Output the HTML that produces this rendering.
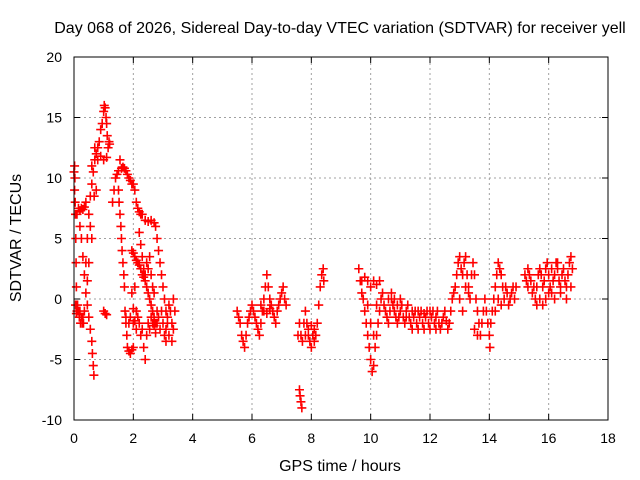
<!DOCTYPE html>
<html><head><meta charset="utf-8"><style>
body{margin:0;background:#fff;}
svg{display:block;font-family:"Liberation Sans",sans-serif;}
</style></head><body>
<svg id="chart" width="640" height="480">
<text x="340" y="33" font-size="16" text-anchor="middle">Day 068 of 2026, Sidereal Day-to-day VTEC variation (SDTVAR) for receiver yell</text>
<text x="340" y="471" font-size="16" text-anchor="middle">GPS time / hours</text>
<text x="0" y="0" font-size="16" text-anchor="middle" transform="translate(21,238) rotate(-90)">SDTVAR / TECUs</text>
<g id="grid"></g>
<g id="ticks"></g>
<g id="marks"></g>
<rect x="74" y="57" width="534" height="363" fill="none" stroke="#000" stroke-width="1"/>
</svg>
<script>
const xTicks=[0,2,4,6,8,10,12,14,16,18];
const yTicks=[-10,-5,0,5,10,15,20];
const seriesX=[];const seriesY=[];
const pts=[
[0,10.5],[0.02,9],[0.04,8],[0.05,7],[0.06,5],[0.07,3],[0.08,1],[0.09,-0.5],[0.1,-1],[0.12,-0.5],[0.15,-1],[0.18,-1.5],[0.2,-1],[0.22,-2],[0.25,-1.5],[0.28,-2],[0.3,-1.5],[0.32,-2],[0.35,-1],[0.02,11],[0.03,10],[0.05,-0.5],[0.08,-1.2],
[0.1,7],[0.15,7.5],[0.2,7.3],[0.25,7.5],[0.3,7.4],[0.35,7.6],[0.4,8],
[0.2,6],[0.25,5],[0.3,3.5],[0.35,2],[0.4,0.5],[0.45,-0.5],[0.5,-1.5],[0.55,-2.5],[0.6,-3.5],[0.62,-4.5],[0.65,-5.5],[0.67,-6.3],
[0.4,3],[0.45,5],[0.5,7],[0.55,8.5],[0.6,9.5],[0.65,10.5],[0.7,11.5],[0.75,12],[0.8,12.5],[0.85,13],[0.9,14],[0.95,14.5],[1.0,15.5],[1.02,16],[1.05,15.8],[1.08,15],[1.1,14.5],[1.12,13.5],[1.15,12.5],[1.18,13],[1.2,12.8],
[0.6,11],[0.7,12.5],[0.8,11.5],[0.9,11.8],[1.0,11.5],[1.1,11.7],[0.75,9],[0.68,8.5],[0.55,6],[0.6,5],[0.5,3],[0.45,1.5],
[1.0,-1],[1.05,-1.2],[1.1,-1.3],
[1.3,8],[1.35,9],[1.4,10],[1.45,10.3],[1.5,10.6],[1.55,11.5],[1.6,10.8],[1.65,10.9],[1.7,10.8],[1.75,10.6],[1.8,10.3],[1.85,10],[1.9,9.8],[1.95,9.5],[2.0,9.5],[2.05,9],[2.1,8],[2.15,7.5],[2.2,7.2],[2.25,7],[2.3,7],[2.4,6.5],[2.5,6.4],[2.6,6.5],[2.7,6.3],[2.75,6],[2.8,5],[2.85,4],[2.9,3],[2.95,2],[3.0,1],[3.05,0],[3.1,-1],[3.15,-2],
[1.5,9],[1.52,8],[1.55,7],[1.58,6],[1.6,5],[1.62,4],[1.65,3],[1.68,2],[1.7,1],[1.72,-1],[1.75,-2],[1.78,-3],[1.8,-4],[1.85,-4.3],[1.9,-4.5],[1.95,-4.2],[2.0,-4],
[1.95,4],[2.0,3.8],[2.05,3.5],[2.1,3.2],[2.15,3],[2.2,2.8],[2.25,2.5],[2.3,2],[2.35,1.8],[2.4,1.5],[2.45,1],[2.5,0.5],[2.55,0],[2.6,-0.5],[2.65,-1],[2.7,-1.5],[2.75,-2],
[2.2,5.5],[2.25,4.5],[2.3,3.5],[2.35,2.5],[2.4,2],[2.45,3],[2.5,2.5],[2.55,3.5],[2.6,2],[2.65,1],[2.7,0.5],[2.8,-1],
[2.0,-2],[2.1,-2.5],[2.15,-1.5],[2.2,-2],[2.25,-3],[2.3,-2.5],[2.35,-4],[2.4,-5],[2.45,-3],[2.5,-2],[2.55,-2.5],[2.6,-1.5],[2.65,-2],[2.7,-2.2],[2.75,-2.8],[2.8,-2],[2.85,-1.5],[2.9,-2.5],[2.95,-1],[3.0,-2],[3.05,-3],[3.1,-2.5],[3.15,-1.5],[3.2,-3],[3.25,-1],[3.3,-2],[3.35,0],[3.4,-1],[3.3,-3.5],[3.2,-0.5],[1.75,-1.5],[1.85,-2],[1.9,-1.5],[2.0,-0.8],[2.05,-1.8],[2.1,-1],[1.95,0.5],[2.05,1],[3.1,-3.5],[3.35,-2.5],
[5.5,-1],[5.55,-1.5],[5.6,-2],[5.65,-3],[5.7,-3.5],[5.75,-4],[5.8,-3],[5.85,-2],[5.9,-1.5],[5.95,-1],[6.0,-0.5],[6.05,-1],[6.1,-1.5],[6.15,-2],[6.2,-2.5],[6.25,-3],[6.3,-2],[6.35,-1],[6.4,0],[6.45,1],[6.5,2],[6.55,1],[6.6,0],[6.65,-0.5],[6.7,-1],[6.75,-1.5],[6.8,-2],[6.85,-1],[6.9,-0.5],[6.95,0],[7.0,0.5],[7.05,1],[7.1,0],[7.15,-0.5],[6.3,-0.5],[6.4,-1],[6.5,-1.2],[6.6,-0.8],
[7.55,-3],[7.6,-2],[7.65,-3],[7.6,-7.5],[7.62,-8],[7.65,-8.5],[7.68,-9],[7.7,-3.5],[7.75,-2],[7.8,-1],[7.85,-2],[7.9,-3],[7.95,-3.5],[8.0,-4],[8.05,-3],[8.1,-2.5],[8.15,-3],[8.2,-2],[8.25,-0.5],[8.3,1],[8.35,2],[8.4,2.5],[8.42,1.5],[7.8,-3],[7.9,-2.5],[8.0,-2.2],[8.1,-3.5],
[9.6,2.5],[9.65,1.5],[9.7,0.5],[9.75,0],[9.8,-1],[9.85,-2],[9.9,-3],[9.95,-4],[10.0,-5],[10.05,-6],[10.1,-5.5],[10.15,-4],[10.2,-3],[10.25,-2],[10.3,-1],[10.35,0],[10.4,0.5],[9.7,1.5],[9.8,1.8],[9.9,1.5],[10.0,1],[10.1,1.5],[10.2,1.2],[10.3,1.5],[9.9,-0.5],[10.0,-2],[10.1,-3],[10.2,-0.5],
[10.45,-0.5],[10.5,-1],[10.55,-1.5],[10.6,-2],[10.65,-1],[10.7,0],[10.75,-0.5],[10.8,-1],[10.85,-1.5],[10.9,-2],[10.95,-1.5],[11.0,-1],[11.05,-0.5],[11.1,-1.5],[11.15,-2],[11.2,-1],[11.25,-0.5],[11.3,-1.5],[11.35,-2],[11.4,-2.5],[11.45,-1.5],[11.5,-1],[11.55,-2],[11.6,-2.5],[11.65,-1.5],[11.7,-1],[11.75,-2],[11.8,-2.5],[11.85,-1.5],[11.9,-1],[11.95,-2],[12.0,-2.5],[12.05,-1.5],[12.1,-1],[12.15,-2],[12.2,-1.5],[12.25,-1],[12.3,-2],[12.35,-2.5],[12.4,-2],[12.45,-1.5],[12.5,-1],[12.55,-1.8],[12.6,-2.5],[12.65,-2],[12.7,-1],[12.75,0],[12.8,0.5],[12.85,1],[12.9,2],[12.95,3],[13.0,3.5],[13.05,2.5],[13.1,2],[13.15,3],[13.2,3.5],[13.25,2],[13.3,1],[13.35,0],[13.4,2],[13.45,3],[13.5,2],[13.55,0],[13.6,-1],[13.65,-2],[13.7,-3],[13.75,-2],[13.8,-1],[13.85,0],[13.9,-1],[13.95,-2],[14.0,-3],[14.02,-4],[14.05,-2],[14.1,-1],[14.15,0],[14.2,1],[14.25,2],[14.3,3],[14.35,2.5],[14.4,2],[14.45,1],[14.5,0],[14.55,1],[14.6,0.5],[14.65,-0.5],[14.7,0],[14.75,0.5],[14.8,1],[14.85,0],[14.9,1],[13.0,0],[13.1,-1],[13.2,1],[13.3,0.5],[13.5,-2.5],[13.6,-3],[14.2,-1],[14.3,0],[14.4,-0.5],[10.6,0],[10.7,0.5],[10.8,0],[10.9,-0.5],[11.0,0],[11.2,-1.5],[11.4,-1],[11.6,-1],[11.8,-1.2],[12.0,-1],[12.2,-2.5],
[15.2,2],[15.25,1.5],[15.3,2.5],[15.35,2],[15.4,1.5],[15.45,0.5],[15.5,1],[15.55,0],[15.6,1],[15.65,2],[15.7,2.5],[15.75,2],[15.8,1],[15.85,1.5],[15.9,2.5],[15.95,3],[16.0,2],[16.05,1],[16.1,0.5],[16.15,1.5],[16.2,2],[16.25,3],[16.3,2.5],[16.35,1.5],[16.4,1],[16.45,2],[16.5,2.5],[16.55,1.5],[16.6,1],[16.65,2],[16.7,3],[16.75,3.5],[16.8,2.5],[16.75,1],[15.6,-0.5],[15.7,0],[15.8,-0.5],[15.9,0],[16.0,0.5],[16.2,0],[16.4,0.5],[16.6,0],[15.3,1],[16.1,2.5],[16.3,3]
];
for(const p of pts){seriesX.push(p[0]);seriesY.push(p[1]);}
const NS="http://www.w3.org/2000/svg";
const X0=74,X1=608,Y0=420,Y1=57;
function sx(v){return X0+(v-0)/(18-0)*(X1-X0);}
function sy(v){return Y0-(v+10)/30*(Y0-Y1);}
const grid=document.getElementById('grid'),ticks=document.getElementById('ticks'),marks=document.getElementById('marks');
function mk(tag,attrs,parent){const e=document.createElementNS(NS,tag);for(const k in attrs)e.setAttribute(k,attrs[k]);parent.appendChild(e);return e;}
xTicks.forEach(t=>{const x=sx(t);
 if(t>0&&t<18){const g=mk('line',{x1:x,x2:x,y1:Y0,y2:Y1,stroke:'#a0a0a0','stroke-dasharray':'2,3'},grid);
 
 }
 mk('line',{x1:x,x2:x,y1:Y0,y2:Y0-6,stroke:'#000'},ticks);mk('line',{x1:x,x2:x,y1:Y1,y2:Y1+6,stroke:'#000'},ticks);
 const l=mk('text',{x:x,y:443,'font-size':14,'text-anchor':'middle'},ticks);l.textContent=t;
 
 });
yTicks.forEach(t=>{const y=sy(t);
 if(t>-10&&t<20){const g=mk('line',{x1:X0,x2:X1,y1:y,y2:y,stroke:'#a0a0a0','stroke-dasharray':'2,3'},grid);
 
 }
 mk('line',{x1:X0,x2:X0+6,y1:y,y2:y,stroke:'#000'},ticks);mk('line',{x1:X1,x2:X1-6,y1:y,y2:y,stroke:'#000'},ticks);
 const l=mk('text',{x:62,y:y+5,'font-size':14,'text-anchor':'end'},ticks);l.textContent=t;
 
 });
let d='';
for(let i=0;i<seriesX.length;i++){const x=sx(seriesX[i]),y=sy(seriesY[i]);d+=`M${x-4.5},${y}h9M${x},${y-4.5}v9`;}
const path=mk('path',{d:d,stroke:'#ff0000','stroke-width':1.6,fill:'none'},marks);


</script>
</body></html>
